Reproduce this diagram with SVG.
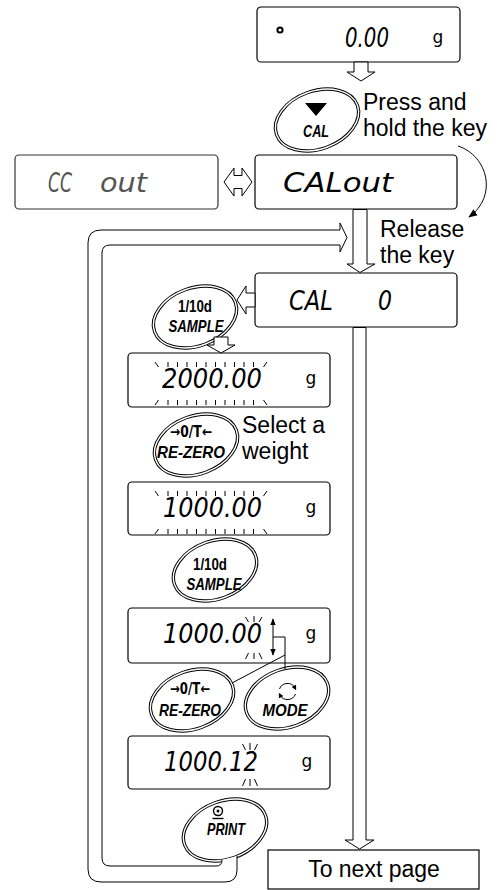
<svg xmlns="http://www.w3.org/2000/svg" xmlns:xlink="http://www.w3.org/1999/xlink" width="503" height="890" viewBox="0 0 503 890">
<style>
.box{fill:#fff;stroke:#000;stroke-width:1.2}
.boxg{fill:#fff;stroke:#333;stroke-width:1.2}
.lcd{font-family:"DejaVu Sans",sans-serif;font-style:oblique;font-weight:200;font-size:27px;fill:#000}
.lcdg{fill:#555}
.unit{font-family:"DejaVu Sans",sans-serif;font-size:17px;text-anchor:middle}
.lbl{font-family:"Liberation Sans",Arial,sans-serif;font-size:23px;fill:#000}
.kt{font-family:"Liberation Sans","DejaVu Sans",sans-serif;font-weight:bold;font-style:italic;font-size:17px;text-anchor:middle}
.kn{font-family:"Liberation Sans","DejaVu Sans",sans-serif;font-weight:bold;font-size:16px;text-anchor:middle}
.ka{font-family:"DejaVu Sans",sans-serif;font-weight:bold;font-size:15px;text-anchor:middle}
.ko{fill:#fff;stroke:#000;stroke-width:3.4}
.ki{fill:none;stroke:#fff;stroke-width:1.4}
.ha{fill:#fff;stroke:#000;stroke-width:1}
.tk{fill:none;stroke:#000;stroke-width:1}
.ln{fill:none;stroke:#000;stroke-width:1}
</style>
<defs>
<g id="kshape"><ellipse rx="43" ry="29" class="ko"/><ellipse rx="43" ry="29" class="ki"/></g>
<marker id="ah" viewBox="0 0 10 10" refX="9" refY="5" markerWidth="9" markerHeight="9" orient="auto"><path d="M0,1 L10,5 L0,9 z" fill="#000"/></marker>
<marker id="ahs" viewBox="0 0 10 10" refX="9" refY="5" markerWidth="7" markerHeight="7" orient="auto-start-reverse"><path d="M0,1 L10,5 L0,9 z" fill="#000"/></marker>
<marker id="ahm" viewBox="0 0 10 10" refX="5" refY="5" markerWidth="5" markerHeight="5" orient="auto"><path d="M0,0 L10,5 L0,10 z" fill="#000"/></marker>
</defs>

<!-- nodes -->
<g id="disp-zero">
<rect class="box" x="257" y="7" width="203" height="55" rx="4"/>
<circle cx="280" cy="30" r="2.6" fill="none" stroke="#000" stroke-width="2"/>
<text class="lcd" x="345" y="47" textLength="44" lengthAdjust="spacingAndGlyphs">0.00</text>
<text class="unit" x="438" y="43">g</text>
</g>

<g id="key-cal">
<use xlink:href="#kshape" transform="translate(317,120) rotate(-20)"/>
<polygon points="305,103 327,103 316,116" fill="#000"/>
<text class="kt" x="316" y="137" textLength="26" lengthAdjust="spacingAndGlyphs">CAL</text>
</g>

<g id="lbl-press">
<text class="lbl" x="363" y="110">Press and</text>
<text class="lbl" x="363" y="136">hold the key</text>
</g>

<g id="disp-ccout">
<rect class="boxg" x="15" y="155" width="203" height="54" rx="4"/>
<text class="lcd lcdg" y="192"><tspan x="48" textLength="24" lengthAdjust="spacingAndGlyphs">CC</tspan> <tspan x="100" textLength="47" lengthAdjust="spacingAndGlyphs">out</tspan></text>
</g>

<g id="disp-calout">
<rect class="box" x="255" y="155" width="202" height="54" rx="4"/>
<text class="lcd" x="283" y="192" textLength="110" lengthAdjust="spacingAndGlyphs">CALout</text>
</g>

<g id="lbl-release">
<text class="lbl" x="380" y="237">Release</text>
<text class="lbl" x="380" y="263">the key</text>
</g>

<g id="disp-cal0">
<rect class="box" x="255" y="273" width="202" height="54" rx="4"/>
<text class="lcd" y="310"><tspan x="289" textLength="44" lengthAdjust="spacingAndGlyphs">CAL</tspan> <tspan x="378" textLength="14" lengthAdjust="spacingAndGlyphs">0</tspan></text>
</g>

<g id="key-sample1">
<use xlink:href="#kshape" transform="translate(195,317) rotate(-20)"/>
<text class="kn" x="195" y="312" textLength="34" lengthAdjust="spacingAndGlyphs">1/10d</text>
<text class="kt" x="196" y="332" textLength="55" lengthAdjust="spacingAndGlyphs">SAMPLE</text>
</g>

<g id="disp-2000">
<rect class="box" x="128" y="353" width="202" height="54" rx="4"/>
<path class="tk" d="M155,362 L158.5,367 M168,362v5 M177.5,362v5 M187,362v5 M196.5,362v5 M206,362v5 M215.5,362v5 M225,362v5 M234.5,362v5 M244,362v5 M253.5,362v5 M267,362 L263.5,367 M158.5,400 L155,405 M168,400v5 M177.5,400v5 M187,400v5 M196.5,400v5 M206,400v5 M215.5,400v5 M225,400v5 M234.5,400v5 M244,400v5 M253.5,400v5 M263.5,400 L267,405"/>
<text class="lcd" x="162" y="388" textLength="100" lengthAdjust="spacingAndGlyphs">2000.00</text>
<text class="unit" x="311" y="384">g</text>
</g>

<g id="key-rezero1">
<use xlink:href="#kshape" transform="translate(196,445) rotate(-20)"/>
<text class="ka" x="191" y="437" textLength="42" lengthAdjust="spacingAndGlyphs">→0/T←</text>
<text class="kt" x="191" y="458" textLength="68" lengthAdjust="spacingAndGlyphs">RE-ZERO</text>
</g>

<g id="lbl-select">
<text class="lbl" x="242" y="433">Select a</text>
<text class="lbl" x="242" y="459">weight</text>
</g>

<g id="disp-1000a">
<rect class="box" x="128" y="482" width="202" height="53" rx="4"/>
<path class="tk" d="M155,491 L158.5,496 M168,491v5 M177.5,491v5 M187,491v5 M196.5,491v5 M206,491v5 M215.5,491v5 M225,491v5 M234.5,491v5 M244,491v5 M253.5,491v5 M267,491 L263.5,496 M158.5,529 L155,534 M168,529v5 M177.5,529v5 M187,529v5 M196.5,529v5 M206,529v5 M215.5,529v5 M225,529v5 M234.5,529v5 M244,529v5 M253.5,529v5 M263.5,529 L267,534"/>
<text class="lcd" x="163" y="517" textLength="99" lengthAdjust="spacingAndGlyphs">1000.00</text>
<text class="unit" x="311" y="513">g</text>
</g>

<g id="key-sample2">
<use xlink:href="#kshape" transform="translate(215,570) rotate(-20)"/>
<text class="kn" x="210" y="570" textLength="34" lengthAdjust="spacingAndGlyphs">1/10d</text>
<text class="kt" x="214" y="590" textLength="55" lengthAdjust="spacingAndGlyphs">SAMPLE</text>
</g>

<g id="disp-1000b">
<rect class="box" x="128" y="608" width="202" height="55" rx="4"/>
<path class="tk" d="M245.5,617 L248.5,622 M254,616v6 M262,617 L259,622 M248.5,653 L245.5,659 M254,653v6 M259,653 L262,659"/>
<text class="lcd" x="163" y="643" textLength="99" lengthAdjust="spacingAndGlyphs">1000.00</text>
<text class="unit" x="311" y="639">g</text>
<line class="ln" x1="273" y1="619" x2="273" y2="655" marker-start="url(#ahs)" marker-end="url(#ahs)"/>
</g>

<g id="key-rezero2">
<use xlink:href="#kshape" transform="translate(192,700) rotate(-20)"/>
<text class="ka" x="190" y="694" textLength="40" lengthAdjust="spacingAndGlyphs">→0/T←</text>
<text class="kt" x="190" y="716" textLength="62" lengthAdjust="spacingAndGlyphs">RE-ZERO</text>
</g>

<g id="key-mode">
<use xlink:href="#kshape" transform="translate(287,698) rotate(-20)"/>
<path class="ln" stroke-width="1.3" d="M279.5,689 A8.5,8.5 0 0 1 295,688" marker-end="url(#ahm)"/>
<path class="ln" stroke-width="1.3" d="M295.5,694 A8.5,8.5 0 0 1 280,695" marker-end="url(#ahm)"/>
<text class="kt" x="285" y="716" textLength="45" lengthAdjust="spacingAndGlyphs">MODE</text>
</g>

<g id="disp-100012">
<rect class="box" x="128" y="736" width="202" height="53" rx="4"/>
<path class="tk" d="M242.5,744 L245.5,750 M250,743v7 M257.5,744 L254.5,750 M245.5,779 L242.5,786 M250,779v7 M254.5,779 L257.5,786"/>
<text class="lcd" x="164" y="771" textLength="94" lengthAdjust="spacingAndGlyphs">1000.12</text>
<text class="unit" x="307" y="767">g</text>
</g>

<g id="key-print">
<use xlink:href="#kshape" transform="translate(225,830) rotate(-20)"/>
<circle cx="218" cy="811" r="4.5" fill="none" stroke="#000" stroke-width="1.4"/>
<circle cx="218" cy="811" r="1.5" fill="#000"/>
<line x1="212.5" y1="818.5" x2="223.5" y2="818.5" stroke="#000" stroke-width="1.4"/>
<text class="kt" x="226" y="835" textLength="38" lengthAdjust="spacingAndGlyphs">PRINT</text>
</g>

<g id="next-page">
<rect x="268" y="850" width="211" height="39" fill="#fff" stroke="#000" stroke-width="1.2"/>
<text class="lbl" x="374" y="877" text-anchor="middle" font-size="24">To next page</text>
</g>

<!-- connectors -->
<g id="connectors">
<polygon class="ha" points="354,62 368,62 368,72 375,72 361,81 347,72 354,72"/>
<path class="ln" stroke-width="1.2" d="M458,146 C488,156 498,196 469,217" marker-end="url(#ah)"/>
<polygon class="ha" points="224,182 234,168 234,175.5 242,175.5 242,168 252,182 242,196 242,188.5 234,188.5 234,196"/>
<polygon class="ha" points="353,209.5 367,209.5 367,264 375,264 360,272.5 347,264 353,264"/>
<path class="ha" fill="none" d="M237,856 L237,870 Q237,882 225,882 L101,882 Q88,882 88,869 L88,243 Q88,230 101,230 L340,230 L340,223 L347,237.5 L340,252 L340,245 L110,245 Q102,245 102,253 L102,858 Q102,866 110,866 L216,866 Q222,866 222,860"/>
<polygon class="ha" points="353,327.5 366,327.5 366,840 374,840 359.5,849 345,840 353,840"/>
<polygon class="ha" points="255,293 246,293 246,286 237,300 246,314 246,307 255,307"/>
<polygon class="ha" points="214,337 228,337 228,345 235,345 221,353 207,345 214,345"/>
<polyline class="ln" points="273,637 285,637 285,669"/>
<line class="ln" x1="285" y1="655" x2="232" y2="683"/>
</g>
</svg>
